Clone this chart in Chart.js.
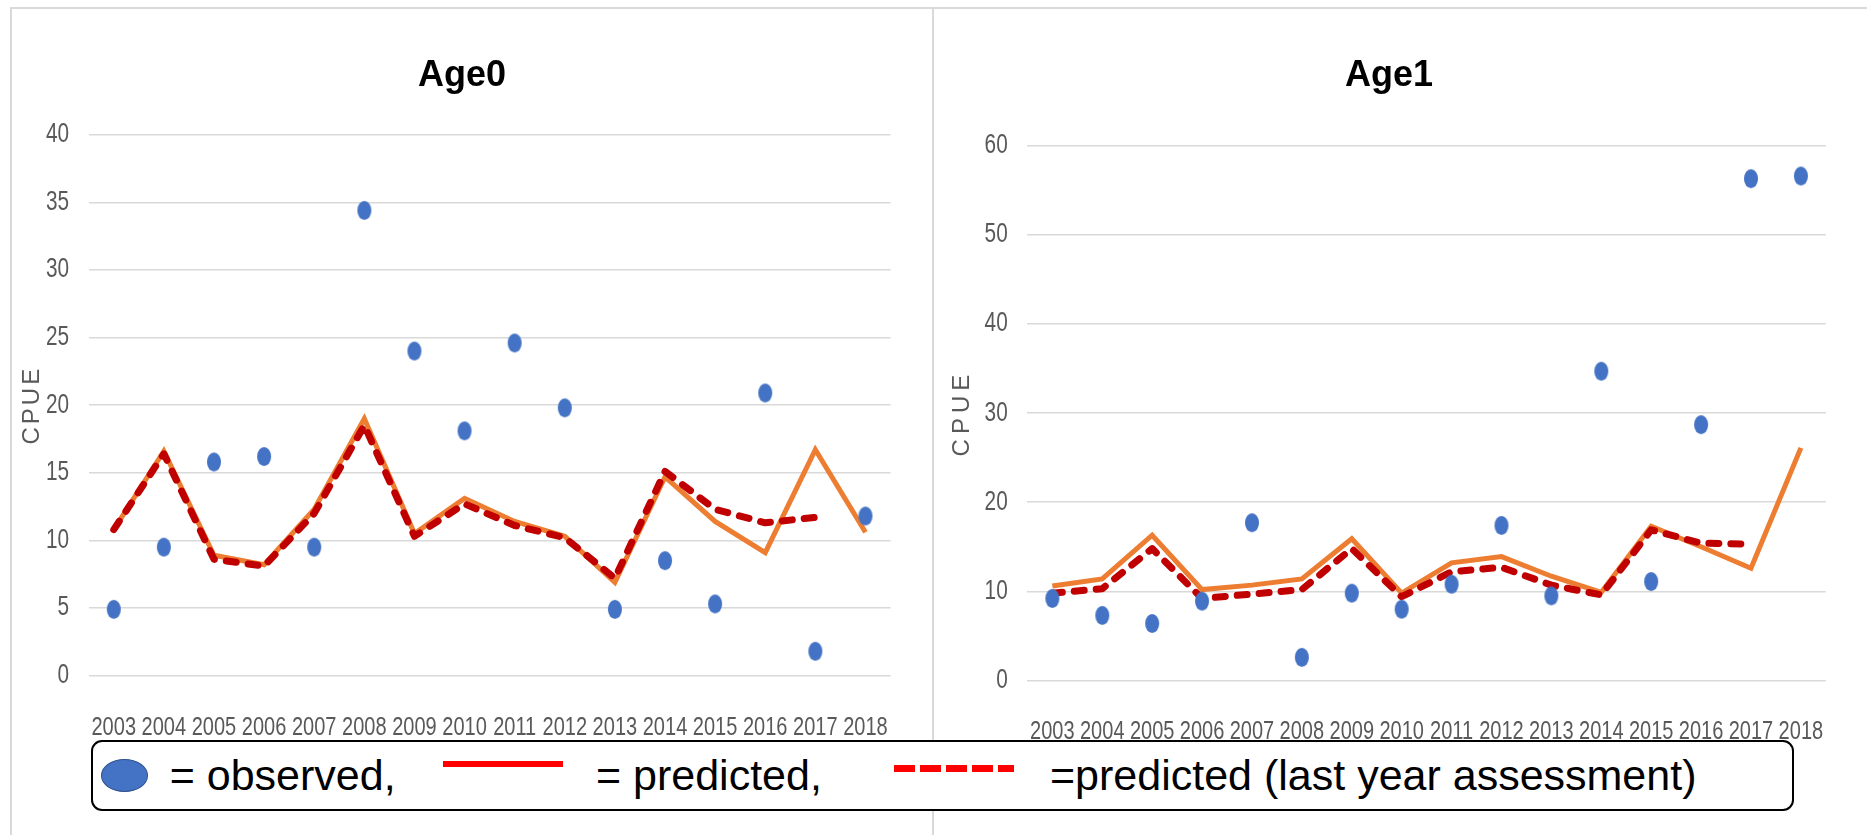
<!DOCTYPE html>
<html>
<head>
<meta charset="utf-8">
<script src="https://cdn.jsdelivr.net/npm/chart.js@4.4.1/dist/chart.umd.min.js"></script>
<style>
html,body{margin:0;padding:0;background:#fff;}
body{width:1867px;height:835px;position:relative;overflow:hidden;font-family:"Liberation Sans",Arial,sans-serif;}
.frame{position:absolute;background:#d9d9d9;}
canvas{position:absolute;top:0;}
#c0{left:0;}
#c1{left:920px;}
#legend{position:absolute;left:91px;top:740px;width:1699px;height:67px;border:2.5px solid #000;border-radius:11px;background:#fff;}
.lg{position:absolute;}
.txt{position:absolute;font-size:43px;line-height:43px;color:#000;white-space:nowrap;font-family:"Liberation Sans",Arial,sans-serif;}
</style>
</head>
<body>
<div class="frame" style="left:10px;top:7px;width:1857px;height:2px;"></div>
<div class="frame" style="left:10px;top:7px;width:2px;height:828px;"></div>
<div class="frame" style="left:932px;top:7px;width:2px;height:828px;"></div>
<canvas id="c0" width="924" height="835"></canvas>
<canvas id="c1" width="938" height="835"></canvas>
<div id="legend"></div>
<div class="lg" style="left:100.7px;top:759px;width:47.3px;height:32.7px;border-radius:50%;background:#4472C4;border:1.5px solid #2F528F;box-sizing:border-box;"></div>
<div class="txt" style="left:169.7px;top:753.6px;">= observed,</div>
<div class="lg" style="left:443px;top:760.7px;width:120px;height:6.7px;background:#ff0000;"></div>
<div class="txt" style="left:596px;top:753.6px;">= predicted,</div>
<div class="lg" style="left:894px;top:765px;width:120px;height:7px;background:repeating-linear-gradient(to right,#ff0000 0px,#ff0000 21px,transparent 21px,transparent 26px);"></div>
<div class="txt" style="left:1050px;top:753.6px;">=predicted (last year assessment)</div>
<script>
const years = ['2003','2004','2005','2006','2007','2008','2009','2010','2011','2012','2013','2014','2015','2016','2017','2018'];

const age0Observed  = [4.9, 9.5, 15.8, 16.2, 9.5, 34.4, 24.0, 18.1, 24.6, 19.8, 4.9, 8.5, 5.3, 20.9, 1.8, 11.8];
const age0Predicted = [10.8, 16.6, 8.9, 8.2, 12.3, 19.0, 10.5, 13.1, 11.4, 10.3, 6.9, 14.7, 11.4, 9.1, 16.7, 10.6];
const age0LastYear  = [10.8, 16.4, 8.6, 8.1, 12.0, 18.5, 10.3, 12.7, 11.1, 10.2, 7.2, 15.1, 12.3, 11.3, 11.7];

const age1Observed  = [9.2, 7.3, 6.4, 8.9, 17.7, 2.6, 9.8, 8.0, 10.8, 17.4, 9.5, 34.7, 11.1, 28.7, 56.3, 56.6];
const age1Predicted = [10.6, 11.4, 16.3, 10.2, 10.7, 11.4, 15.9, 9.8, 13.2, 13.9, 11.7, 9.9, 17.3, 15.0, 12.6, 26.1];
const age1LastYear  = [9.8, 10.3, 14.8, 9.2, 9.7, 10.2, 14.8, 9.4, 12.2, 12.7, 10.7, 9.6, 16.9, 15.4, 15.3];

const age0Axis = {max: 40, step: 5};
const age1Axis = {max: 60, step: 10};

// "TickCond" is a marker name (not installed): text falls back to Liberation Sans and is drawn horizontally condensed
const TICK_FONT = 'TickCond, "Liberation Sans", Arial, sans-serif';
const MAIN_FONT = '"Liberation Sans", Arial, sans-serif';
const COND = 0.77;

function prepareContext(canvas, cpueSpacing) {
  const ctx = canvas.getContext('2d');
  const orig = ctx.fillText.bind(ctx);
  ctx.fillText = function (t, x, y, mw) {
    if (this.font.indexOf('TickCond') >= 0) {
      const w = this.measureText(t).width * COND;
      return orig(t, x, y, mw !== undefined ? Math.min(mw, w) : w);
    }
    if (t === 'CPUE' && 'letterSpacing' in this) {
      const prev = this.letterSpacing;
      this.letterSpacing = cpueSpacing + 'px';
      const r = mw === undefined ? orig(t, x + 0, y) : orig(t, x, y, mw + 4 * cpueSpacing);
      this.letterSpacing = prev;
      return r;
    }
    return mw === undefined ? orig(t, x, y) : orig(t, x, y, mw);
  };
  return canvas;
}

function ellipsePoint() {
  const c = document.createElement('canvas');
  c.width = 16; c.height = 21;
  const g = c.getContext('2d');
  g.fillStyle = '#4472C4';
  g.beginPath();
  g.ellipse(8, 10.5, 7, 9.5, 0, 0, Math.PI * 2);
  g.fill();
  return c;
}

function makeChart(id, title, obs, pred, last, axis, L) {
  const canvas = prepareContext(document.getElementById(id), L.cpueSpacing);
  return new Chart(canvas, {
    type: 'line',
    data: {
      labels: years,
      datasets: [
        {label: 'observed', data: obs, showLine: false, pointStyle: ellipsePoint(), pointRadius: 8, pointHoverRadius: 8, order: 1, borderColor: '#4472C4', backgroundColor: '#4472C4'},
        {label: 'predicted (last year assessment)', data: last, borderColor: '#C00000', borderWidth: 7, borderDash: [10, 12], borderCapStyle: 'round', borderJoinStyle: 'round', pointRadius: 0, fill: false, tension: 0, order: 2},
        {label: 'predicted', data: pred, borderColor: '#ED7D31', borderWidth: 5, borderJoinStyle: 'miter', pointRadius: 0, fill: false, tension: 0, order: 3}
      ]
    },
    options: {
      responsive: false,
      devicePixelRatio: 1,
      animation: false,
      layout: {padding: 0},
      plugins: {
        legend: {display: false},
        tooltip: {enabled: false},
        title: {
          display: true, text: title, color: '#000',
          font: {family: MAIN_FONT, size: 36, weight: 'bold', lineHeight: 1.2},
          padding: {top: L.titleTop, bottom: L.titleBottom}
        }
      },
      scales: {
        x: {
          type: 'category', offset: true,
          grid: {display: false}, border: {display: false},
          ticks: {color: '#595959', font: {family: TICK_FONT, size: 26}, maxRotation: 0, minRotation: 0, autoSkip: false, padding: L.xPad},
          afterFit: s => { s.height = L.xAxisHeight; }
        },
        y: {
          position: 'left', min: 0, max: axis.max,
          ticks: {stepSize: axis.step, color: '#595959', font: {family: TICK_FONT, size: 27}, padding: 19.7},
          grid: {color: '#d9d9d9', lineWidth: 1.5, drawTicks: false},
          border: {display: false},
          title: {display: true, text: 'CPUE', color: '#595959', font: {family: MAIN_FONT, size: L.cpueSize}, padding: {top: L.cpuePad, bottom: 0}},
          afterFit: s => { s.width = L.yAxisWidth; }
        },
        yR: {
          position: 'right', min: 0, max: 1,
          ticks: {display: false}, grid: {display: false}, border: {display: false},
          afterFit: s => { s.width = L.rightWidth; }
        }
      }
    }
  });
}

makeChart('c0', 'Age0', age0Observed, age0Predicted, age0LastYear, age0Axis,
  {yAxisWidth: 88.7, rightWidth: 29.5, xAxisHeight: 159.4, xPad: 28.7, titleTop: 54.5, titleBottom: 37, cpueSize: 24, cpuePad: 17.6, cpueSpacing: 3});
makeChart('c1', 'Age1', age1Observed, age1Predicted, age1LastYear, age1Axis,
  {yAxisWidth: 107.4, rightWidth: 9.5, xAxisHeight: 154.5, xPad: 27.9, titleTop: 54.5, titleBottom: 48, cpueSize: 24, cpuePad: 27.6, cpueSpacing: 5});
</script>
</body>
</html>
